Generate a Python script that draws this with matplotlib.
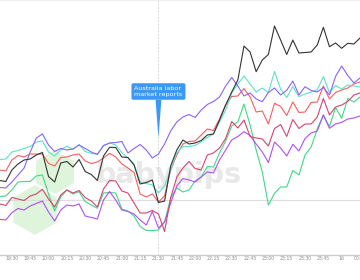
import numpy as np
import matplotlib
matplotlib.use("Agg")
import matplotlib.pyplot as plt
from matplotlib.patches import RegularPolygon, Polygon
from matplotlib.transforms import IdentityTransform

# time axis: minutes after 19:00, one point every 5 minutes (19:20 .. 00:15)
minutes = list(range(20, 320, 5))

# series values (chart units, larger = lower on screen)
black = [180.5, 181.5, 170, 164, 160, 159, 155, 152.5, 176.5, 182,
         163, 161.5, 167, 159.5, 171.5, 174.5, 180.5, 156, 147.3, 147.5,
         157, 157.5, 165, 184, 182.5, 180, 202.5, 201, 166, 150,
         140, 144, 143, 140.5, 135, 134, 120, 105, 92, 80,
         46, 52, 71.7, 60, 54.5, 26, 40, 54.5, 40, 53,
         52.5, 52, 45, 27.3, 46.7, 43, 48.3, 43.3, 44, 38]
turquoise = [159.5, 159, 152, 150.5, 148.5, 146.5, 142, 141, 152, 156,
             150, 146, 149.5, 144.5, 151.5, 153.5, 154, 146, 143, 145,
             152.5, 158, 164, 182, 183.5, 185, 193, 186, 170, 153,
             146.5, 146.5, 145.5, 142, 137.5, 134, 122, 110, 93, 84,
             76, 84, 92, 88, 92.7, 71.5, 89, 97.5, 86.5, 96.7,
             94, 92, 90, 76.5, 92.7, 85.5, 89, 85, 86, 87]
red = [170, 171, 160, 155.5, 157, 154, 154, 154, 163.5, 166,
       157.5, 157, 155, 154, 161, 163.5, 162, 158, 153.3, 157,
       164, 168, 172.5, 194, 197, 194, 202, 196, 170, 155,
       144, 141.5, 141, 135, 129, 130.5, 119, 105, 96.5, 96,
       88.5, 97, 112, 111, 124, 103.3, 106.5, 115.5, 102, 112.5,
       112, 102.5, 102, 86, 99, 92.5, 90, 88, 84, 82]
blue_purple = [187.5, 188, 182, 175, 168, 152, 138, 134, 145, 151.5,
               148.5, 150, 149, 145, 148.5, 152, 154.5, 145.5, 143, 142.5,
               141.5, 153, 148.5, 144.5, 150, 158, 154, 144, 131, 122,
               117, 114.5, 117.5, 110, 104.5, 101.5, 97, 86, 77.5, 86,
               96, 93, 99, 101.7, 92.5, 88, 95, 90.3, 81, 95,
               86.7, 90.5, 92, 87.5, 95, 76.5, 66, 75.5, 83, 78]
green = [196.5, 196, 190, 182, 181.5, 181.5, 176, 175, 194, 211,
         197, 190, 194, 191.7, 201.7, 205, 208.3, 193, 192.5, 193,
         209, 211, 216, 226.5, 230.5, 230.5, 230, 222, 198, 188,
         192, 190, 181, 177, 166.5, 167, 153, 141, 126, 122,
         104, 125, 150, 172, 205, 193.3, 187, 187, 170.5, 175,
         155, 147, 129, 115, 126.7, 107.5, 118.3, 98.5, 102, 97]
pink = [204, 205.5, 197.5, 199, 200.5, 196, 194, 189.3, 199, 207,
        195, 190, 193, 190.5, 197.5, 201, 207, 189, 180.5, 181,
        191, 193, 203, 213, 213, 210.5, 214, 231.5, 198, 177,
        168, 161.5, 168.5, 170, 155, 153, 148, 138.5, 121.5, 128,
        120, 136.5, 138, 139, 146, 128.5, 124.5, 136.5, 119.5, 128.5,
        124, 124, 117, 98.5, 115, 107, 105, 101.5, 95, 93]
violet = [219.3, 220, 212.7, 208.5, 210, 206, 203.5, 201, 212, 221,
          210, 205, 206, 204, 216, 217.5, 219, 200, 191.5, 200,
          210, 211.5, 214, 220, 225, 211.5, 228, 222, 203, 186,
          178.5, 180, 182, 177, 172, 173, 160, 150, 140, 136.5,
          131.7, 135.5, 144, 152, 162.5, 142, 148, 156, 144.3, 151,
          138.5, 133, 131, 115, 128.3, 124, 122.3, 119, 118, 116]

tick_pos = list(range(30, 330, 15))
tick_labels = ['19:30', '19:45', '20:00', '20:15', '20:30', '20:45', '21:00',
               '21:15', '21:30', '21:45', '22:00', '22:15', '22:30', '22:45',
               '23:00', '23:15', '23:30', '23:45', '16', '00:15']

event_time = 150  # 21:30
event_text = 'Australia labor\nmarket reports'
zero_level = 200

fig = plt.figure(figsize=(3.6, 2.8), dpi=100)
ax = fig.add_axes([0, 0.0904, 1, 0.9096])

# watermark: babypips logo + text
for cx, cy, r in [(55, 172, 22), (35, 210, 25)]:
    ax.add_patch(RegularPolygon((cx, 280 - cy), 6, radius=r, orientation=0,
                                facecolor='#def4db', edgecolor='none',
                                transform=IdentityTransform(), zorder=0))
ax.text(158.5, 183.5, 'babypips', fontsize=20.5, fontweight='bold',
        color='#e8e8e8', ha='center', va='baseline', zorder=0.5)

ax.axhline(zero_level, color='#dddddd', lw=0.8, zorder=1)
ax.axvline(event_time, color='#cccccc', lw=0.6, ls=(0, (2, 2)), zorder=1)

series = [(green, '#3fd98a'), (violet, '#b24ff2'), (pink, '#d8436f'),
          (red, '#f75e5e'), (turquoise, '#5ae3c9'), (blue_purple, '#8b63fb'),
          (black, '#333333')]
for vals, col in series:
    ax.plot(minutes, vals, color=col, lw=0.8, zorder=3)

# event annotation
ax.text(event_time, 91.5, event_text, fontsize=4.6, color='white',
        ha='center', va='center', multialignment='left', zorder=6,
        bbox=dict(boxstyle='round,pad=0.45,rounding_size=0.3',
                  fc='#3b99f5', ec='none'))
ax.add_patch(Polygon([(event_time - 2.4, 100), (event_time + 2.4, 100),
                      (event_time, 138)], closed=True, fc='#3b99f5',
                     ec='none', zorder=6))

ax.set_xlim(20.27, 312.2)
ax.set_ylim(254.7, 0)
ax.set_xticks(tick_pos)
ax.set_xticklabels(tick_labels)
ax.set_yticks([])
ax.tick_params(axis='x', length=0, pad=1.2, labelsize=3.3, labelcolor='#8a8a8a')
for side in ['left', 'right']:
    ax.spines[side].set_visible(False)
ax.spines['bottom'].set_color('#cccccc')
ax.spines['bottom'].set_linewidth(1.0)
ax.spines['top'].set_color('#eeeeee')
ax.spines['top'].set_linewidth(1.5)

fig.savefig('out.png', dpi=100)
